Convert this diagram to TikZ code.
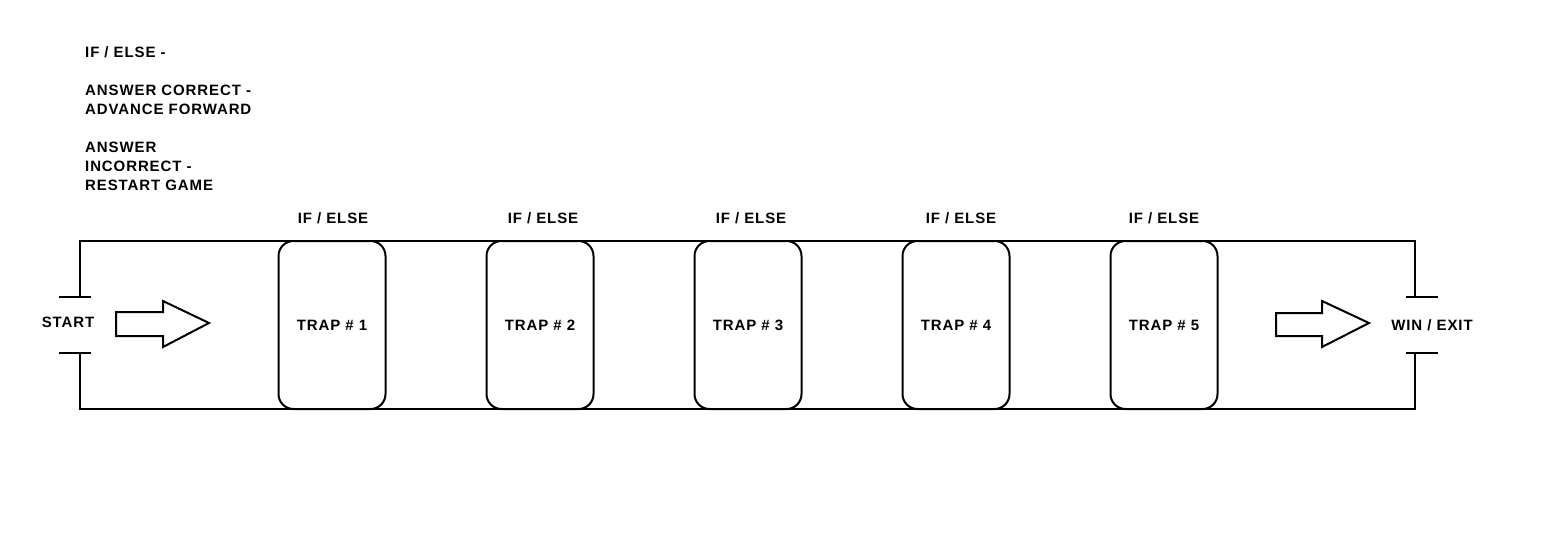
\documentclass[tikz,border=0pt]{standalone}
\usepackage{fontspec}
\setmainfont{Liberation Sans}[LetterSpace=6]
\begin{document}
\begin{tikzpicture}[x=1pt,y=-1pt,
  lbl/.style={font=\bfseries\fontsize{15}{19}\selectfont, inner sep=0pt},
  line/.style={line width=2pt},
  trapbox/.style={draw, line width=2pt, rounded corners=15pt, minimum width=107pt, minimum height=168pt, inner sep=0pt, font=\bfseries\fontsize{15}{19}\selectfont}]
\fill[white] (0,0) rectangle (1544,541);
\useasboundingbox (0,0) rectangle (1544,541);
% notes
\node[lbl, anchor=base west] (n1) at (85,57) {IF / ELSE -};
\node[lbl, anchor=base west] (n2) at (85,95) {ANSWER CORRECT -};
\node[lbl, anchor=base west] (n3) at (85,114) {ADVANCE FORWARD};
\node[lbl, anchor=base west] (n4) at (85,152) {ANSWER};
\node[lbl, anchor=base west] (n5) at (85,171) {INCORRECT -};
\node[lbl, anchor=base west] (n6) at (85,190) {RESTART GAME};
% frame
\draw[line] (80,297) -- (80,241) -- (1415,241) -- (1415,297);
\draw[line] (80,353) -- (80,409) -- (1415,409) -- (1415,353);
\draw[line] (59,297) -- (91,297);
\draw[line] (59,353) -- (91,353);
\draw[line] (1406,297) -- (1438,297);
\draw[line] (1406,353) -- (1438,353);
% start / exit labels
\node[lbl] (start) at (68,322) {START};
\node[lbl] (exit) at (1432,325) {WIN / EXIT};
% arrows
\draw[line, line join=miter] (116,312) -- (163,312) -- (163,301) -- (209,323) -- (163,347) -- (163,336) -- (116,336) -- cycle;
\draw[line, line join=miter] (1276,313) -- (1322,313) -- (1322,301) -- (1369,323) -- (1322,347) -- (1322,336) -- (1276,336) -- cycle;
% traps
\foreach \i/\x/\lx in {1/332/333,2/540/543,3/748/751,4/956/961,5/1164/1164} {
  \node[trapbox] (t\i) at (\x,325) {TRAP \# \i};
  \node[lbl] (c\i) at (\lx,218) {IF / ELSE};
}
\end{tikzpicture}
\end{document}
